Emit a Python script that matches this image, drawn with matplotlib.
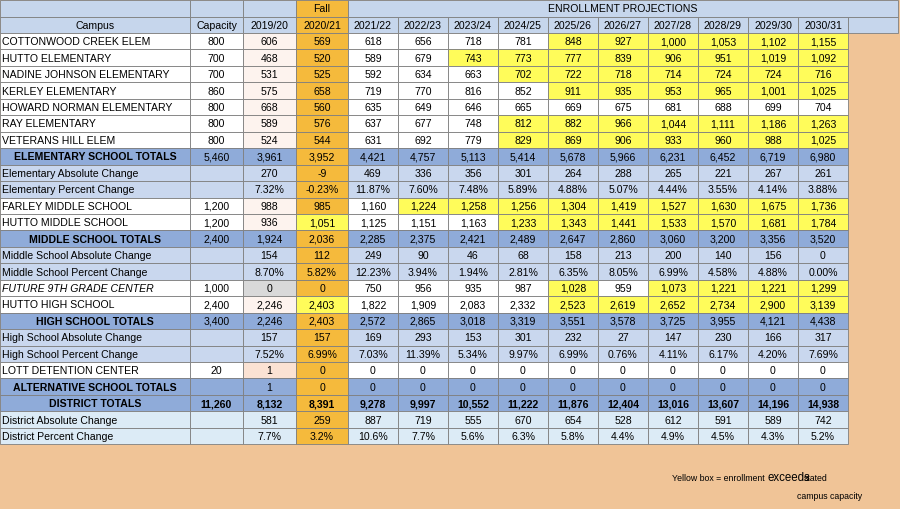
import matplotlib
matplotlib.use("Agg")
import matplotlib.pyplot as plt
from matplotlib.patches import Rectangle

years = ["2019/20", "2020/21", "2021/22", "2022/23", "2023/24", "2024/25", "2025/26",
         "2026/27", "2027/28", "2028/29", "2029/30", "2030/31"]
campus = ["COTTONWOOD CREEK ELEM", "HUTTO ELEMENTARY", "NADINE JOHNSON ELEMENTARY", "KERLEY ELEMENTARY",
          "HOWARD NORMAN ELEMENTARY", "RAY ELEMENTARY", "VETERANS HILL ELEM", "ELEMENTARY SCHOOL TOTALS",
          "Elementary Absolute Change", "Elementary Percent Change", "FARLEY MIDDLE SCHOOL",
          "HUTTO MIDDLE SCHOOL", "MIDDLE SCHOOL TOTALS", "Middle School Absolute Change",
          "Middle School Percent Change", "FUTURE 9TH GRADE CENTER", "HUTTO HIGH SCHOOL",
          "HIGH SCHOOL TOTALS", "High School Absolute Change", "High School Percent Change",
          "LOTT DETENTION CENTER", "ALTERNATIVE SCHOOL TOTALS", "DISTRICT TOTALS",
          "District Absolute Change", "District Percent Change"]
capacity = ["800", "700", "700", "860", "800", "800", "800", "5,460", "", "", "1,200", "1,200", "2,400",
            "", "", "1,000", "2,400", "3,400", "", "", "20", "", "11,260", "", ""]
values = [
    ["606", "569", "618", "656", "718", "781", "848", "927", "1,000", "1,053", "1,102", "1,155"],
    ["468", "520", "589", "679", "743", "773", "777", "839", "906", "951", "1,019", "1,092"],
    ["531", "525", "592", "634", "663", "702", "722", "718", "714", "724", "724", "716"],
    ["575", "658", "719", "770", "816", "852", "911", "935", "953", "965", "1,001", "1,025"],
    ["668", "560", "635", "649", "646", "665", "669", "675", "681", "688", "699", "704"],
    ["589", "576", "637", "677", "748", "812", "882", "966", "1,044", "1,111", "1,186", "1,263"],
    ["524", "544", "631", "692", "779", "829", "869", "906", "933", "960", "988", "1,025"],
    ["3,961", "3,952", "4,421", "4,757", "5,113", "5,414", "5,678", "5,966", "6,231", "6,452", "6,719", "6,980"],
    ["270", "-9", "469", "336", "356", "301", "264", "288", "265", "221", "267", "261"],
    ["7.32%", "-0.23%", "11.87%", "7.60%", "7.48%", "5.89%", "4.88%", "5.07%", "4.44%", "3.55%", "4.14%", "3.88%"],
    ["988", "985", "1,160", "1,224", "1,258", "1,256", "1,304", "1,419", "1,527", "1,630", "1,675", "1,736"],
    ["936", "1,051", "1,125", "1,151", "1,163", "1,233", "1,343", "1,441", "1,533", "1,570", "1,681", "1,784"],
    ["1,924", "2,036", "2,285", "2,375", "2,421", "2,489", "2,647", "2,860", "3,060", "3,200", "3,356", "3,520"],
    ["154", "112", "249", "90", "46", "68", "158", "213", "200", "140", "156", "0"],
    ["8.70%", "5.82%", "12.23%", "3.94%", "1.94%", "2.81%", "6.35%", "8.05%", "6.99%", "4.58%", "4.88%", "0.00%"],
    ["0", "0", "750", "956", "935", "987", "1,028", "959", "1,073", "1,221", "1,221", "1,299"],
    ["2,246", "2,403", "1,822", "1,909", "2,083", "2,332", "2,523", "2,619", "2,652", "2,734", "2,900", "3,139"],
    ["2,246", "2,403", "2,572", "2,865", "3,018", "3,319", "3,551", "3,578", "3,725", "3,955", "4,121", "4,438"],
    ["157", "157", "169", "293", "153", "301", "232", "27", "147", "230", "166", "317"],
    ["7.52%", "6.99%", "7.03%", "11.39%", "5.34%", "9.97%", "6.99%", "0.76%", "4.11%", "6.17%", "4.20%", "7.69%"],
    ["1", "0", "0", "0", "0", "0", "0", "0", "0", "0", "0", "0"],
    ["1", "0", "0", "0", "0", "0", "0", "0", "0", "0", "0", "0"],
    ["8,132", "8,391", "9,278", "9,997", "10,552", "11,222", "11,876", "12,404", "13,016", "13,607", "14,196", "14,938"],
    ["581", "259", "887", "719", "555", "670", "654", "528", "612", "591", "589", "742"],
    ["7.7%", "3.2%", "10.6%", "7.7%", "5.6%", "6.3%", "5.8%", "4.4%", "4.9%", "4.5%", "4.3%", "5.2%"],
]
kinds = ["n"] * 7 + ["t", "c", "c", "n", "n", "t", "c", "c", "n", "n", "t", "c", "c", "n", "t", "t", "d", "d"]
yellow = {0: [6, 7, 8, 9, 10, 11], 1: [4, 5, 6, 7, 8, 9, 10, 11], 2: [5, 6, 7, 8, 9, 10, 11],
          3: [6, 7, 8, 9, 10, 11], 5: [5, 6, 7, 8, 9, 10, 11], 6: [5, 6, 7, 8, 9, 10, 11],
          10: [3, 4, 5, 6, 7, 8, 9, 10, 11], 11: [1, 5, 6, 7, 8, 9, 10, 11],
          15: [6, 8, 9, 10, 11], 16: [1, 6, 7, 8, 9, 10, 11]}

plt.rcParams['font.family'] = ['Liberation Sans', 'DejaVu Sans']
fig = plt.figure(figsize=(9, 5.1), dpi=100)
fig.patch.set_facecolor("#f0c497")
ax = fig.add_axes([0, 0, 1, 1])
ax.set_xlim(0, 900)
ax.set_ylim(510, 0)
ax.axis("off")

xs = [0, 190, 243, 296, 348] + [348 + 50.0 * (i + 1) for i in range(10)] + [898]
top, h0, rh = 1, 16.5, 16.45
y0 = top + 2 * h0
fs = 7.6

HEAD = "#c6d6ec"; TOT = "#8fabd9"; CHG = "#c9d7ee"; DCHG = "#dcebf6"
ORANGE = "#f5ba3c"; YEL = "#fffc5a"; PEACH = "#fdf3ee"

def cell(x0, x1, y, h, fc):
    ax.add_patch(Rectangle((x0, y), x1 - x0, h, facecolor=fc, edgecolor="#7f7f7f", lw=0.6))

for c in range(len(xs) - 1):
    fc = ORANGE if c == 3 else HEAD
    if c < 4:
        cell(xs[c], xs[c + 1], top, h0, fc)
    cell(xs[c], xs[c + 1], top + h0, h0, fc)
cell(xs[4], xs[-1], top, h0, HEAD)
ax.text((xs[4] + xs[-1]) / 2, top + h0 / 2, "ENROLLMENT PROJECTIONS", ha="center", va="center", fontsize=fs)
ax.text((xs[3] + xs[4]) / 2, top + h0 / 2, "Fall", ha="center", va="center", fontsize=fs)
hdr = ["Campus", "Capacity"] + years
for c, t in enumerate(hdr):
    ax.text((xs[c] + xs[c + 1]) / 2, top + 1.5 * h0, t, ha="center", va="center", fontsize=fs)

for r, name in enumerate(campus):
    y = y0 + r * rh
    k = kinds[r]
    base = {"n": "white", "t": TOT, "c": CHG, "d": DCHG}[k]
    row = [name, capacity[r]] + values[r]
    for c in range(len(row)):
        fc = base
        if c == 2 and k == "n":
            fc = PEACH
        if c == 2 and r == 15:
            fc = "#d9d9d9"
        if c == 2 and r == 20:
            fc = "#fbe2d3"
        if c == 3:
            fc = ORANGE
        if c >= 2 and (c - 2) in yellow.get(r, []):
            fc = YEL
        cell(xs[c], xs[c + 1], y, rh, fc)
        heavy = r == 22
        style = "italic" if r == 15 and c == 0 else "normal"
        if c == 0:
            if k == "t":
                ax.text((xs[0] + xs[1]) / 2, y + rh / 2, row[c], ha="center", va="center",
                        fontsize=fs, fontweight="bold")
            else:
                ax.text(2, y + rh / 2, row[c], ha="left", va="center", fontsize=fs, fontstyle=style)
        else:
            ax.text((xs[c] + xs[c + 1]) / 2, y + rh / 2, row[c], ha="center", va="center",
                    fontsize=fs, fontweight="bold" if heavy else "normal")

ax.text(765, 479, "Yellow box = enrollment", ha="right", va="center", fontsize=6.3)
ax.text(768, 478, "exceeds", ha="left", va="center", fontsize=8.3)
ax.text(804, 479, "stated", ha="left", va="center", fontsize=6.3)
ax.text(862, 497, "campus capacity", ha="right", va="center", fontsize=6.3)

fig.savefig("out.png", dpi=100, facecolor=fig.get_facecolor())
